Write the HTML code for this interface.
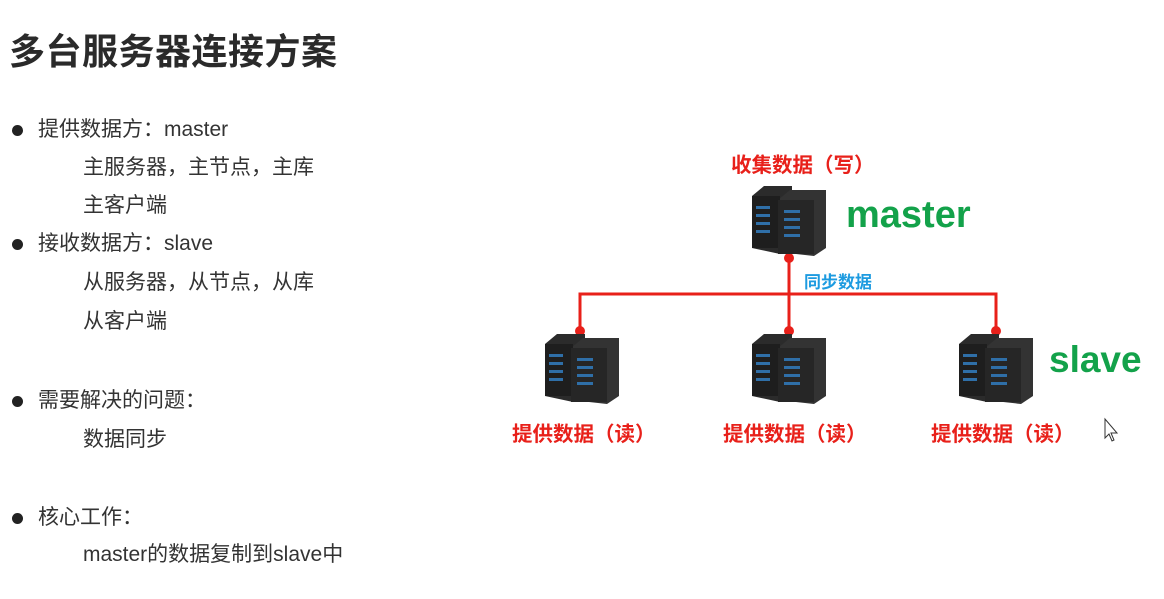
<!DOCTYPE html>
<html><head><meta charset="utf-8"><style>
body{margin:0;width:1164px;height:599px;background:#fff;overflow:hidden;position:relative;font-family:"Liberation Sans","Noto Sans CJK SC",sans-serif;}
.t{position:absolute;white-space:nowrap;}
.title{left:9px;top:23px;font-size:36px;font-weight:bold;color:#2a2a2a;letter-spacing:0.5px;}
.l{font-size:21px;color:#333;line-height:24px;}
.dot{position:absolute;width:11px;height:11px;border-radius:50%;background:#222;left:12px;}
.red{color:#e8201a;font-weight:bold;font-size:20.5px;}
.grn{color:#13a24a;font-weight:bold;}
</style></head><body>
<div class="t title">多台服务器连接方案</div>
<div class="dot" style="top:125px"></div>
<div class="t l" style="left:38px;top:118px">提供数据方：master</div>
<div class="t l" style="left:83px;top:156px">主服务器，主节点，主库</div>
<div class="t l" style="left:83px;top:194px">主客户端</div>
<div class="dot" style="top:239px"></div>
<div class="t l" style="left:38px;top:232px">接收数据方：slave</div>
<div class="t l" style="left:83px;top:271px">从服务器，从节点，从库</div>
<div class="t l" style="left:83px;top:310px">从客户端</div>
<div class="dot" style="top:396px"></div>
<div class="t l" style="left:38px;top:389px">需要解决的问题：</div>
<div class="t l" style="left:83px;top:428px">数据同步</div>
<div class="dot" style="top:513px"></div>
<div class="t l" style="left:38px;top:506px">核心工作：</div>
<div class="t l" style="left:83px;top:543px">master的数据复制到slave中</div>

<svg width="1164" height="599" style="position:absolute;left:0;top:0">
<defs>
<g id="srv">
<polygon points="0,12 12,2 40,2 40,60 28,70 0,64" fill="#2b2b2b"/>
<polygon points="26,16 38,6 74,6 74,64 62,72 26,68" fill="#333"/>
<rect x="0" y="12" width="28" height="52" fill="#1e1e1e"/>
<rect x="26" y="16" width="36" height="54" fill="#262626"/>
<g fill="#2f6fa8">
<rect x="4" y="22" width="14" height="3"/><rect x="4" y="30" width="14" height="3"/><rect x="4" y="38" width="14" height="3"/><rect x="4" y="46" width="14" height="3"/>
<rect x="32" y="26" width="16" height="3"/><rect x="32" y="34" width="16" height="3"/><rect x="32" y="42" width="16" height="3"/><rect x="32" y="50" width="16" height="3"/>
</g>
</g>
</defs>
<g stroke="#e8201a" stroke-width="3" fill="none">
<line x1="789" y1="258" x2="789" y2="332"/>
<polyline points="580,332 580,294 996,294 996,332"/>
</g>
<g fill="#e8201a">
<circle cx="789" cy="258" r="5"/><circle cx="580" cy="331" r="5"/><circle cx="789" cy="331" r="5"/><circle cx="996" cy="331" r="5"/>
</g>
<use href="#srv" x="752" y="184"/>
<use href="#srv" x="545" y="332"/>
<use href="#srv" x="752" y="332"/>
<use href="#srv" x="959" y="332"/>
<polygon points="1105,419 1105,438 1109,434 1112,441 1114,440 1111,433 1117,433" fill="#fff" stroke="#333" stroke-width="1"/>
</svg>
<div class="t red" style="left:731px;top:148px">收集数据（写）</div>
<div class="t grn" style="left:846px;top:194px;font-size:38px">master</div>
<div class="t" style="left:804px;top:268px;font-size:17px;font-weight:bold;color:#1d9be0">同步数据</div>
<div class="t grn" style="left:1049px;top:339px;font-size:37px">slave</div>
<div class="t red" style="left:512px;top:417px">提供数据（读）</div>
<div class="t red" style="left:723px;top:417px">提供数据（读）</div>
<div class="t red" style="left:931px;top:417px">提供数据（读）</div>
</body></html>
